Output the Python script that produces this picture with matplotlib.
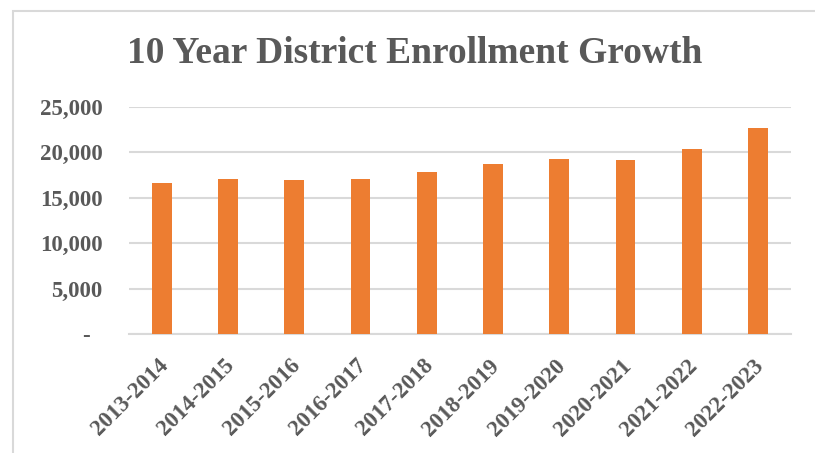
import matplotlib

matplotlib.use("Agg")
import matplotlib.pyplot as plt
import matplotlib.transforms as mtransforms
from matplotlib.patches import Rectangle
from matplotlib.ticker import FuncFormatter

years = ["2013-2014", "2014-2015", "2015-2016", "2016-2017", "2017-2018",
         "2018-2019", "2019-2020", "2020-2021", "2021-2022", "2022-2023"]
enrollment = [16650, 17070, 16990, 17070, 17870, 18680, 19230, 19150, 20330, 22670]
y_ticks = [0, 5000, 10000, 15000, 20000, 25000]

BAR = "#ED7D31"
GRID = "#D9D9D9"
TEXT = "#595959"
FONT = "Liberation Serif"

fig = plt.figure(figsize=(8.15, 4.53), dpi=100)
ax = fig.add_axes([0.158, 0.262, 0.8126, 0.5025])

x = list(range(len(years)))
ax.bar(x, enrollment, width=0.3, color=BAR, zorder=3)

ax.set_xlim(-0.5, len(years) - 0.5)
ax.set_ylim(0, 25000)
ax.set_yticks(y_ticks)
# accounting style: zero shown as a dash with trailing padding
ax.yaxis.set_major_formatter(FuncFormatter(lambda v, _: "-  " if v == 0 else f"{v:,.0f}"))
ax.grid(axis="y", color=GRID, linewidth=1.5, zorder=0)
ax.set_axisbelow(True)
for side in ("top", "right", "left"):
    ax.spines[side].set_visible(False)
ax.spines["bottom"].set_color(GRID)
ax.spines["bottom"].set_linewidth(1.5)
ax.tick_params(length=0)
ax.tick_params(axis="y", pad=19, labelcolor=TEXT)
ax.tick_params(axis="x", pad=15, labelcolor=TEXT)

for lab in ax.get_yticklabels():
    lab.set_fontfamily(FONT)
    lab.set_fontweight("bold")
    lab.set_fontsize(16.5)

ax.set_xticks(x)
ax.set_xticklabels(years)
shift = mtransforms.ScaledTranslation(-0.045, 0, fig.dpi_scale_trans)
for lab in ax.get_xticklabels():
    lab.set_fontfamily(FONT)
    lab.set_fontweight("bold")
    lab.set_fontsize(16.5)
    lab.set_rotation(45)
    lab.set_rotation_mode("anchor")
    lab.set_ha("right")
    lab.set_va("top")
    lab.set_transform(lab.get_transform() + shift)

fig.text(0.509, 0.882, "10 Year District Enrollment Growth", ha="center", va="center",
         fontsize=27, fontweight="bold", family=FONT, color=TEXT)

# light chart-area frame
fig.patches.append(Rectangle((13 / 815, -0.1), 1.2, 1 - 11 / 453 + 0.1,
                             transform=fig.transFigure, fill=False,
                             edgecolor=GRID, linewidth=1.5))

fig.savefig("out.png", dpi=100)
